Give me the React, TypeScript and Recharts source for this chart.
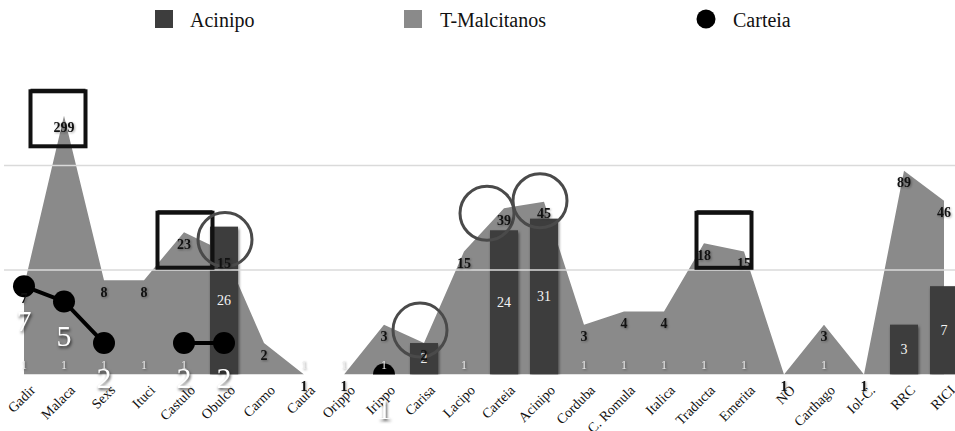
import React from 'react';
import {
  ComposedChart, Area, Bar, Line, XAxis, YAxis, LabelList, ReferenceLine, ReferenceDot,
} from 'recharts';

const categories = ['Gadir', 'Malaca', 'Sexs', 'Ituci', 'Castulo', 'Obulco', 'Carmo', 'Caura', 'Orippo', 'Irippo', 'Carisa', 'Lacipo', 'Carteia', 'Acinipo', 'Corduba', 'C. Romula', 'Italica', 'Traducta', 'Emerita', 'NO', 'Carthago', 'Iol-C.', 'RRC', 'RICI'];
const tMalcitanos = [7, 299, 8, 8, 23, 15, 2, 1, 1, 3, 2, 15, 39, 45, 3, 4, 4, 18, 15, 1, 3, 1, 89, 46];
const acinipo = [1, 1, 1, 1, 1, 26, null, 1, 1, 1, 2, 1, 24, 31, 1, 1, 1, 1, 1, null, 1, null, 3, 7];
const carteia = [7, 5, 2, null, 2, 2, null, null, null, 1, null, null, null, null, null, null, null, null, null, null, null, null, null, null];
const gridValues = [10, 100];
const seriesNames = ['Acinipo', 'T-Malcitanos', 'Carteia'];

const decorations = [
  { name: 'Malaca', kind: 'square', dx: -6, dy: 3 },
  { name: 'Castulo', kind: 'square', dx: 1, dy: 8 },
  { name: 'Traducta', kind: 'square', dx: 20, dy: -3 },
  { name: 'Obulco', kind: 'circle', dx: 1, dy: -12 },
  { name: 'Carisa', kind: 'circle', dx: -4, dy: -13 },
  { name: 'Carteia', kind: 'circle', dx: -17, dy: 5 },
  { name: 'Acinipo', kind: 'circle', dx: -4, dy: -1 },
];

const data = categories.map((name, i) => ({
  name,
  acinipo: acinipo[i],
  tm: tMalcitanos[i],
  carteia: carteia[i],
}));

const FONT = 'Liberation Serif, Times New Roman, serif';
const AREA_COLOR = '#8a8a8a';
const BAR_COLOR = '#3d3d3d';
const SHADOW = 'drop-shadow(1px 2px 1.5px rgba(0,0,0,0.55))';

const getXY = (p: any) => {
  const vb = p.viewBox || {};
  return {
    x: p.x ?? vb.x,
    y: p.y ?? vb.y,
    width: p.width ?? vb.width ?? 0,
    height: p.height ?? vb.height ?? 0,
  };
};

const RotatedTick = (props: any) => {
  const { x, y, payload } = props;
  const ax = x + 12;
  const ay = 391;
  return (
    <g transform={`translate(${ax},${ay}) rotate(-45)`}>
      <text x={0} y={0} textAnchor="end" fontFamily={FONT} fontSize={14} fill="#111">
        {payload.value}
      </text>
    </g>
  );
};

const BarShape = (props: any) => {
  const { x, y, width, height } = props;
  if (!height || height < 0.5) return <g />;
  return <rect x={x} y={y} width={width} height={height} fill={BAR_COLOR} style={{ filter: SHADOW }} />;
};

const BarLabel = (props: any) => {
  const { value } = props;
  if (value == null) return null;
  const { x, y, width, height } = getXY(props);
  const cx = x + width / 2;
  if (height < 3) {
    return (
      <text x={cx} y={y - 10} textAnchor="middle" dominantBaseline="central"
        fontFamily={FONT} fontSize={12} fill="#eeeeee" style={{ filter: 'drop-shadow(1px 1px 1px rgba(0,0,0,0.4))' }}>
        {value}
      </text>
    );
  }
  return (
    <text x={cx} y={y + height / 2} textAnchor="middle" dominantBaseline="central"
      fontFamily={FONT} fontSize={14} fill="#f4f4f4">
      {value}
    </text>
  );
};

const TmLabel = (props: any) => {
  const { value } = props;
  if (value == null) return null;
  const { x, y } = getXY(props);
  return (
    <text x={x} y={y + 12} textAnchor="middle" dominantBaseline="central"
      fontFamily={FONT} fontSize={14} fontWeight={700} fill="#111" style={{ filter: 'drop-shadow(1px 1px 1px rgba(0,0,0,0.35))' }}>
      {value}
    </text>
  );
};

const CarteiaLabel = (props: any) => {
  const { value } = props;
  if (value == null) return null;
  const { x, y } = getXY(props);
  return (
    <text x={x} y={y + 34} textAnchor="middle" dominantBaseline="central"
      fontFamily={FONT} fontSize={30} fill="#ffffff" style={{ filter: 'drop-shadow(1px 2px 1.5px rgba(0,0,0,0.7))' }}>
      {value}
    </text>
  );
};

const CarteiaDot = (props: any) => {
  const { cx, cy, payload, index } = props;
  if (payload == null || payload.carteia == null || cy == null) return <g key={`d${index}`} />;
  return <circle key={`d${index}`} cx={cx} cy={cy} r={11} fill="#000" />;
};

const makeDeco = (kind: string, dx: number, dy: number) => (p: any) => {
  const cx = p.cx + dx;
  const cy = p.cy + dy;
  if (kind === 'square') {
    const s = 55;
    return (
      <g>
        <rect x={cx - s / 2} y={cy - s / 2} width={s} height={s} fill="none" stroke="#111" strokeWidth={4} />
        <line x1={cx - s / 2} y1={cy - s / 2 - 1} x2={cx + s / 2} y2={cy - s / 2 - 1} stroke="#111" strokeWidth={3} />
      </g>
    );
  }
  return <circle cx={cx} cy={cy} r={27} fill="none" stroke="#4a4a4a" strokeWidth={3} />;
};

const Legend = () => (
  <svg width={955} height={45} style={{ position: 'absolute', left: 0, top: 0 }}>
    <rect x={155} y={10} width={18} height={18} fill={BAR_COLOR} />
    <text x={190} y={27} fontFamily={FONT} fontSize={20} fill="#111">{seriesNames[0]}</text>
    <rect x={404} y={10} width={18} height={18} fill={AREA_COLOR} />
    <text x={440} y={27} fontFamily={FONT} fontSize={20} fill="#111">{seriesNames[1]}</text>
    <circle cx={706} cy={19} r={9.5} fill="#000" />
    <text x={733} y={27} fontFamily={FONT} fontSize={20} fill="#111">{seriesNames[2]}</text>
  </svg>
);

export default function App() {
  return (
    <div style={{ position: 'fixed', left: 0, top: 0, width: 955, height: 431, overflow: 'hidden', background: '#fff', fontFamily: FONT }}>
      <div style={{ position: 'absolute', left: 0, top: 0 }}>
        <ComposedChart width={970} height={431} data={data} margin={{ top: 61, right: 6, left: 4, bottom: 0 }}>
          <XAxis dataKey="name" height={56.5} axisLine={false} tickLine={false}
            interval={0} tick={<RotatedTick />} />
          <YAxis hide type="number" scale="log" domain={[1, 1000]} allowDataOverflow />
          {gridValues.map((v) => (
            <ReferenceLine key={v} y={v} stroke="#dadada" strokeWidth={1.5} />
          ))}
          <Area dataKey="tm" name={seriesNames[1]} type="linear" fill={AREA_COLOR} fillOpacity={1} stroke="none"
            baseValue={1} isAnimationActive={false} dot={false} activeDot={false} />
          <Bar dataKey="acinipo" name={seriesNames[0]} barSize={28} fill={BAR_COLOR} shape={BarShape} isAnimationActive={false}>
            <LabelList dataKey="acinipo" content={BarLabel} />
          </Bar>
          <Line dataKey="tm" stroke="none" dot={false} activeDot={false} isAnimationActive={false} legendType="none">
            <LabelList dataKey="tm" content={TmLabel} />
          </Line>
          <Line dataKey="carteia" name={seriesNames[2]} stroke="#000" strokeWidth={4} dot={CarteiaDot}
            activeDot={false} connectNulls={false} isAnimationActive={false}>
            <LabelList dataKey="carteia" content={CarteiaLabel} />
          </Line>
          {decorations.map((d) => {
            const i = categories.indexOf(d.name);
            return (
              <ReferenceDot key={d.name} x={d.name} y={tMalcitanos[i]} r={0} ifOverflow="visible"
                shape={makeDeco(d.kind, d.dx, d.dy)} />
            );
          })}
        </ComposedChart>
      </div>
      <Legend />
    </div>
  );
}
